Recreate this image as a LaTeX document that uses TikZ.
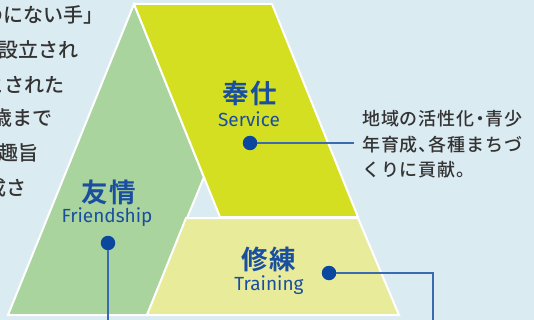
\documentclass[tikz,border=0pt]{standalone}
\usepackage{fontspec}
\setsansfont{Fira Sans}
\newfontfamily\cjk{Noto Sans CJK JP}[UprightFont=* Medium, BoldFont=* Bold]
\newfontfamily\cjkr{Noto Sans CJK JP}[UprightFont=* Medium, LetterSpace=5, RawFeature=+halt]
\definecolor{bgblue}{HTML}{DBEBF2}
\definecolor{fgreen}{HTML}{A9D49D}
\definecolor{fyellow}{HTML}{D5DF21}
\definecolor{fbeige}{HTML}{E8EB9A}
\definecolor{labblue}{HTML}{1A4F9F}
\definecolor{dotblue}{HTML}{0B479E}
\definecolor{lineblue}{HTML}{3A6BB0}
\definecolor{txtgray}{HTML}{333333}
\tikzset{
  block/.style={draw=white,line width=2pt,line join=miter},
  lefttext/.style={anchor=east,inner sep=0pt,text=txtgray,font=\cjk\fontsize{20}{20}\selectfont},
  righttext/.style={anchor=west,inner sep=0pt,text=txtgray,font=\cjkr\fontsize{18}{18}\selectfont},
  jlabel/.style={inner sep=0pt,text=labblue,font=\cjk\bfseries\fontsize{26.5}{26.5}\selectfont},
  elabel/.style={inner sep=0pt,text=labblue,font=\sffamily\fontsize{19}{19}\selectfont},
  dot/.style={circle,fill=dotblue,inner sep=0pt,minimum size=14.5pt},
  conn/.style={draw=lineblue,line width=1.3pt}
}
\begin{document}
\begin{tikzpicture}[x=1pt,y=-1pt]
\useasboundingbox (0,0) rectangle (534,320);
\clip (0,0) rectangle (534,320);
\fill[bgblue] (0,0) rectangle (534,320);
% blocks
\path[block,fill=fgreen] (134,4) -- (204,177) -- (147,315) -- (8,315) -- cycle;
\path[block,fill=fyellow] (134,4) -- (272,4) -- (358,217) -- (220,217) -- cycle;
\path[block,fill=fbeige] (186,218) -- (358,218) -- (399,315) -- (147,315) -- cycle;
% left text
\node[lefttext] (l1) at (104,15) {のにない手」};
\node[lefttext] (l2) at (79,50) {設立され};
\node[lefttext] (l3) at (65,85) {とされた};
\node[lefttext] (l4) at (53,118) {歳まで};
\node[lefttext] (l5) at (39,153) {趣旨};
\node[lefttext] (l6) at (27,188) {成さ};
% right text
\node[righttext] (r1) at (362,119) {地域の活性化・青少};
\node[righttext] (r2) at (362,145) {年育成、各種まちづ};
\node[righttext] (r3) at (362,170) {くりに貢献。};
% labels
\node[jlabel] (hoshi) at (250,93) {奉\kern1.5pt 仕};
\node[elabel] (service) at (249,119) {Service};
\node[jlabel] (yujo) at (108.5,192) {友\kern1.5pt 情};
\node[elabel] (friend) at (107,217) {Friendship};
\node[jlabel] (shuren) at (269,259) {修\kern1.5pt 練};
\node[elabel] (train) at (269,285) {Training};
% dots
\node[dot] (ds) at (250,143) {};
\node[dot] (df) at (108,243) {};
\node[dot] (dt) at (329,273) {};
\coordinate (es) at (354,143);
\coordinate (ef) at (108,322);
\coordinate (tc) at (433,273);
\coordinate (et) at (433,322);
\draw[conn] (ds) -- (es);
\draw[conn] (df) -- (ef);
\draw[conn] (dt) -- (tc) -- (et);
\end{tikzpicture}
\end{document}
